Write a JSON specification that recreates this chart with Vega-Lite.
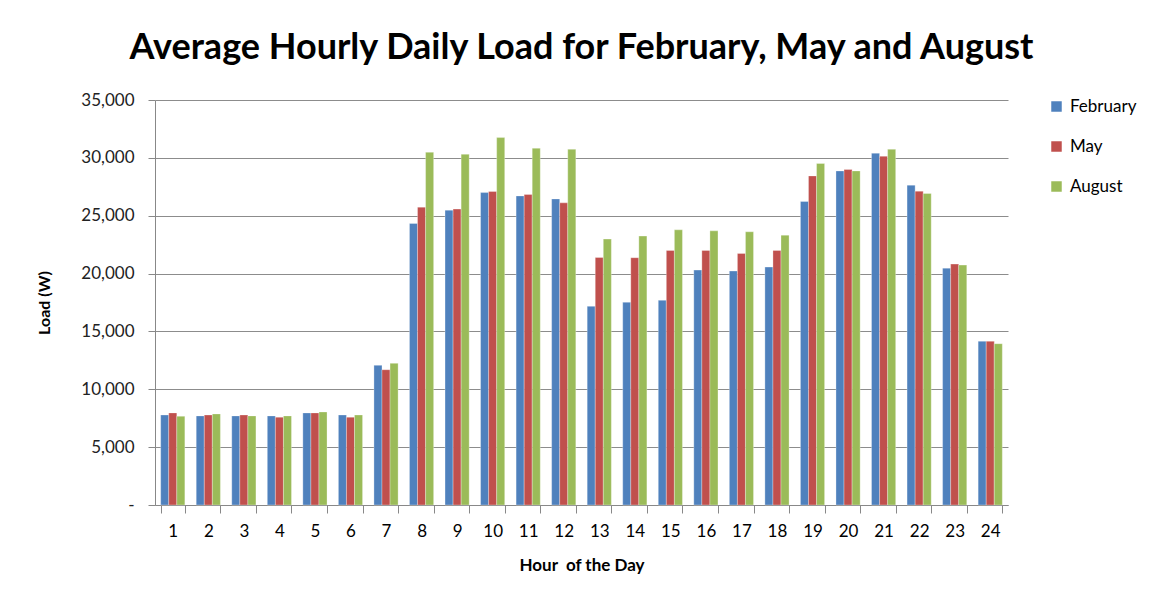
{
  "$schema": "https://vega.github.io/schema/vega-lite/v6.json",
  "width": 853,
  "height": 405,
  "autosize": {"type": "none"},
  "padding": {"left": 155, "top": 100, "right": 148, "bottom": 97},
  "background": "white",
  "title": {
    "text": "Average Hourly Daily Load for February, May and August",
    "font": "Lato",
    "fontSize": 36,
    "fontWeight": "bold",
    "color": "#000000",
    "anchor": "middle",
    "offset": 24
  },
  "data": {
    "values": [
      {"hour": 1, "month": "February", "load": 7780}, {"hour": 1, "month": "May", "load": 7960}, {"hour": 1, "month": "August", "load": 7670},
      {"hour": 2, "month": "February", "load": 7700}, {"hour": 2, "month": "May", "load": 7780}, {"hour": 2, "month": "August", "load": 7870},
      {"hour": 3, "month": "February", "load": 7700}, {"hour": 3, "month": "May", "load": 7780}, {"hour": 3, "month": "August", "load": 7700},
      {"hour": 4, "month": "February", "load": 7700}, {"hour": 4, "month": "May", "load": 7590}, {"hour": 4, "month": "August", "load": 7700},
      {"hour": 5, "month": "February", "load": 7960}, {"hour": 5, "month": "May", "load": 7960}, {"hour": 5, "month": "August", "load": 8040},
      {"hour": 6, "month": "February", "load": 7780}, {"hour": 6, "month": "May", "load": 7590}, {"hour": 6, "month": "August", "load": 7780},
      {"hour": 7, "month": "February", "load": 12070}, {"hour": 7, "month": "May", "load": 11690}, {"hour": 7, "month": "August", "load": 12240},
      {"hour": 8, "month": "February", "load": 24330}, {"hour": 8, "month": "May", "load": 25740}, {"hour": 8, "month": "August", "load": 30480},
      {"hour": 9, "month": "February", "load": 25480}, {"hour": 9, "month": "May", "load": 25570}, {"hour": 9, "month": "August", "load": 30310},
      {"hour": 10, "month": "February", "load": 27000}, {"hour": 10, "month": "May", "load": 27090}, {"hour": 10, "month": "August", "load": 31750},
      {"hour": 11, "month": "February", "load": 26710}, {"hour": 11, "month": "May", "load": 26830}, {"hour": 11, "month": "August", "load": 30830},
      {"hour": 12, "month": "February", "load": 26450}, {"hour": 12, "month": "May", "load": 26110}, {"hour": 12, "month": "August", "load": 30740},
      {"hour": 13, "month": "February", "load": 17170}, {"hour": 13, "month": "May", "load": 21390}, {"hour": 13, "month": "August", "load": 22980},
      {"hour": 14, "month": "February", "load": 17520}, {"hour": 14, "month": "May", "load": 21370}, {"hour": 14, "month": "August", "load": 23240},
      {"hour": 15, "month": "February", "load": 17690}, {"hour": 15, "month": "May", "load": 22000}, {"hour": 15, "month": "August", "load": 23780},
      {"hour": 16, "month": "February", "load": 20300}, {"hour": 16, "month": "May", "load": 22000}, {"hour": 16, "month": "August", "load": 23690},
      {"hour": 17, "month": "February", "load": 20220}, {"hour": 17, "month": "May", "load": 21740}, {"hour": 17, "month": "August", "load": 23610},
      {"hour": 18, "month": "February", "load": 20560}, {"hour": 18, "month": "May", "load": 22000}, {"hour": 18, "month": "August", "load": 23320},
      {"hour": 19, "month": "February", "load": 26230}, {"hour": 19, "month": "May", "load": 28440}, {"hour": 19, "month": "August", "load": 29510},
      {"hour": 20, "month": "February", "load": 28870}, {"hour": 20, "month": "May", "load": 28990}, {"hour": 20, "month": "August", "load": 28870},
      {"hour": 21, "month": "February", "load": 30400}, {"hour": 21, "month": "May", "load": 30140}, {"hour": 21, "month": "August", "load": 30740},
      {"hour": 22, "month": "February", "load": 27640}, {"hour": 22, "month": "May", "load": 27120}, {"hour": 22, "month": "August", "load": 26920},
      {"hour": 23, "month": "February", "load": 20470}, {"hour": 23, "month": "May", "load": 20820}, {"hour": 23, "month": "August", "load": 20730},
      {"hour": 24, "month": "February", "load": 14150}, {"hour": 24, "month": "May", "load": 14150}, {"hour": 24, "month": "August", "load": 13940}
    ]
  },
  "mark": {"type": "bar", "stroke": "white", "strokeWidth": 0.5, "strokeOpacity": 0.6},
  "encoding": {
    "x": {
      "field": "hour",
      "type": "ordinal",
      "scale": {"paddingInner": 0.32, "paddingOuter": 0.16},
      "axis": {
        "title": "Hour\u00a0 of the Day",
        "titleFont": "Lato",
        "titleFontSize": 17,
        "titleFontWeight": "bold",
        "titleColor": "#000000",
        "titlePadding": 18,
        "labelAngle": 0,
        "labelFont": "Lato",
        "labelFontSize": 17,
        "labelColor": "#000000",
        "labelPadding": 10,
        "tickBand": "extent",
        "tickSize": 8,
        "tickColor": "#888888",
        "domainColor": "#888888",
        "grid": false
      }
    },
    "xOffset": {"field": "month", "type": "nominal", "sort": ["February", "May", "August"], "scale": {"paddingInner": 0, "paddingOuter": 0}},
    "y": {
      "field": "load",
      "type": "quantitative",
      "scale": {"domain": [0, 35000]},
      "axis": {
        "title": "Load (W)",
        "titleFont": "Lato",
        "titleFontSize": 16,
        "titleFontWeight": "bold",
        "titleColor": "#000000",
        "titlePadding": 28,
        "values": [0, 5000, 10000, 15000, 20000, 25000, 30000, 35000],
        "labelExpr": "datum.value == 0 ? '-' : format(datum.value, ',')",
        "labelFont": "Lato",
        "labelFontSize": 17,
        "labelColor": "#222222",
        "labelPadding": 14,
        "tickSize": 7,
        "tickColor": "#888888",
        "domainColor": "#888888",
        "gridColor": "#8c8c8c",
        "gridWidth": 1
      }
    },
    "color": {
      "field": "month",
      "type": "nominal",
      "sort": ["February", "May", "August"],
      "scale": {"domain": ["February", "May", "August"], "range": ["#4F81BD", "#C0504D", "#9BBB59"]},
      "legend": {
        "title": null,
        "orient": "none",
        "legendX": 893,
        "legendY": -2,
        "symbolType": "square",
        "symbolSize": 110,
        "symbolStrokeWidth": 0,
        "labelFont": "Lato",
        "labelFontSize": 17,
        "labelColor": "#000000",
        "rowPadding": 22,
        "labelOffset": 5
      }
    }
  },
  "config": {
    "view": {"stroke": null}
  }
}
